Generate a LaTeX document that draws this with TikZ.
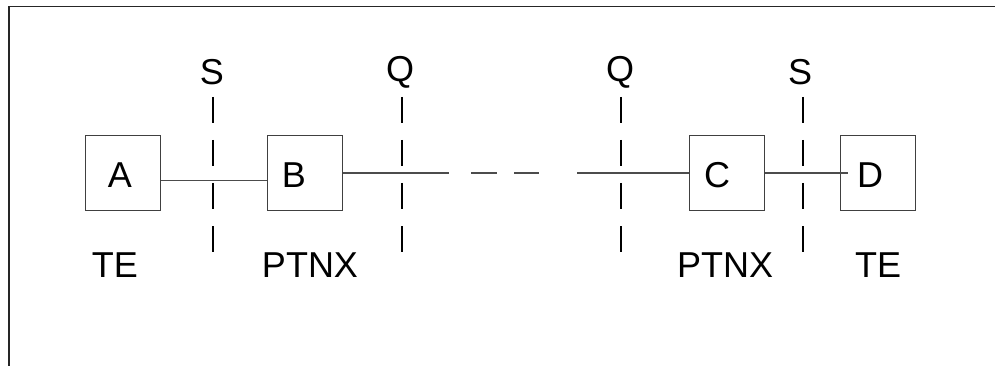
\documentclass[tikz,border=0pt]{standalone}
\usepackage{fontspec}
\setmainfont{Liberation Sans}
\begin{document}
\begin{tikzpicture}[x=1pt,y=-1pt,
  unitbox/.style={draw=black!75, line width=1.1pt, minimum width=75pt, minimum height=75pt, inner sep=0pt, anchor=north west},
  lbl/.style={font=\fontsize{36}{40}\selectfont, inner sep=0pt, anchor=base},
  wire/.style={draw=black!70, line width=1.4pt},
  refline/.style={draw=black, line width=1.1pt, dash pattern=on 26pt off 17pt}]
\useasboundingbox (0,0) rectangle (995,366);
% frame
\draw[line width=1.5pt, black!85] (9,366) -- (9,6.5) -- (995,6.5);
% boxes
\node[unitbox] (A) at (85,135) {};
\node[unitbox] (B) at (267,135) {};
\node[unitbox] (C) at (689,135) {};
\node[unitbox] (D) at (840,135) {};
\node[lbl] (tA) at (120,187) {A};
\node[lbl] (tB) at (294,187) {B};
\node[lbl] (tC) at (717,187) {C};
\node[lbl] (tD) at (870,187) {D};
% connectors
\draw[wire] ([yshift=-7.5pt]A.east) -- ([yshift=-7.5pt]B.west);
\draw[wire, dash pattern=on 106pt off 22pt on 26pt off 17pt on 25pt off 38pt on 200pt] (B.east) -- (C.west);
\draw[wire] (C.east) -- ([xshift=8pt]D.west);
% reference points
\coordinate (s1t) at (213,97); \coordinate (s1b) at (213,252);
\coordinate (q1t) at (402,97); \coordinate (q1b) at (402,252);
\coordinate (q2t) at (621,97); \coordinate (q2b) at (621,252);
\coordinate (s2t) at (803,97); \coordinate (s2b) at (803,252);
\draw[refline] (s1t) -- (s1b);
\draw[refline] (q1t) -- (q1b);
\draw[refline] (q2t) -- (q2b);
\draw[refline] (s2t) -- (s2b);
\node[lbl] (S1) at (212,85) {S};
\node[lbl] (Q1) at (400,82) {Q};
\node[lbl] (Q2) at (620,82) {Q};
\node[lbl] (S2) at (800,85) {S};
\node[lbl] (TE1) at (115,277) {TE};
\node[lbl] (P1) at (310,277) {PTNX};
\node[lbl] (P2) at (725,277) {PTNX};
\node[lbl] (TE2) at (878,277) {TE};
\end{tikzpicture}
\end{document}
